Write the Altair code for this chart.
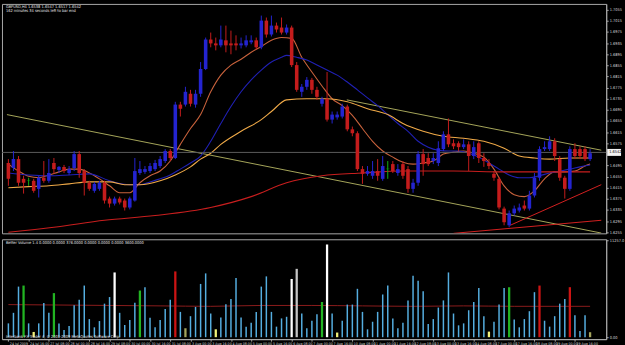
import altair as alt
import pandas as pd

# ---------------- data ----------------
opens = [
    1.6504, 1.6486, 1.6518, 1.6447, 1.6440, 1.6440, 1.6411, 1.6451, 1.6440, 1.6504,
    1.6479, 1.6490, 1.6468, 1.6486, 1.6536, 1.6475, 1.6433, 1.6404, 1.6411, 1.6433,
    1.6376, 1.6358, 1.6376, 1.6369, 1.6344, 1.6369, 1.6468, 1.6472, 1.6475, 1.6482,
    1.6493, 1.6511, 1.6547, 1.6522, 1.6714, 1.6714, 1.6753, 1.6714, 1.6753, 1.6842,
    1.6948, 1.6934, 1.6927, 1.6945, 1.6934, 1.6934, 1.6927, 1.6927, 1.6938, 1.6945,
    1.6920, 1.7016, 1.6966, 1.6998, 1.6991, 1.6973, 1.6991, 1.6856, 1.6760, 1.6778,
    1.6803, 1.6767, 1.6717, 1.6735, 1.6660, 1.6668, 1.6671, 1.6707, 1.6625, 1.6611,
    1.6482, 1.6465, 1.6458, 1.6475, 1.6447, 1.6482, 1.6500, 1.6468, 1.6500, 1.6482,
    1.6411, 1.6433, 1.6536, 1.6522, 1.6511, 1.6504, 1.6554, 1.6607, 1.6575, 1.6575,
    1.6561, 1.6571, 1.6529, 1.6575, 1.6522, 1.6504, 1.6465, 1.6447, 1.6340, 1.6280,
    1.6323, 1.6333, 1.6351, 1.6340, 1.6387, 1.6451, 1.6554, 1.6554, 1.6582, 1.6518,
    1.6451, 1.6411, 1.6554, 1.6554, 1.6554, 1.6518]
highs = [
    1.6518, 1.6547, 1.6529, 1.6458, 1.6451, 1.6447, 1.6458, 1.6511, 1.6518, 1.6522,
    1.6493, 1.6497, 1.6493, 1.6547, 1.6547, 1.6482, 1.6440, 1.6436, 1.6440, 1.6440,
    1.6383, 1.6383, 1.6383, 1.6376, 1.6383, 1.6522, 1.6511, 1.6493, 1.6504, 1.6515,
    1.6529, 1.6554, 1.6554, 1.6724, 1.6724, 1.6778, 1.6767, 1.6767, 1.6867, 1.6955,
    1.6973, 1.6955, 1.6998, 1.6998, 1.6980, 1.6963, 1.6955, 1.6963, 1.6963, 1.6955,
    1.7034, 1.7027, 1.7034, 1.7009, 1.7027, 1.7002, 1.6998, 1.6867, 1.6788, 1.6813,
    1.6810, 1.6778, 1.6742, 1.6831, 1.6689, 1.6689, 1.6717, 1.6714, 1.6635, 1.6618,
    1.6493, 1.6493, 1.6511, 1.6518, 1.6529, 1.6511, 1.6511, 1.6500, 1.6511, 1.6493,
    1.6447, 1.6547, 1.6554, 1.6539, 1.6539, 1.6582, 1.6618, 1.6664, 1.6589, 1.6582,
    1.6589, 1.6582, 1.6582, 1.6582, 1.6539, 1.6518, 1.6475, 1.6454, 1.6347, 1.6333,
    1.6351, 1.6358, 1.6369, 1.6404, 1.6468, 1.6564, 1.6582, 1.6600, 1.6593, 1.6529,
    1.6458, 1.6564, 1.6575, 1.6564, 1.6564, 1.6554]
lows = [
    1.6422, 1.6475, 1.6422, 1.6394, 1.6422, 1.6397, 1.6380, 1.6433, 1.6433, 1.6465,
    1.6468, 1.6468, 1.6461, 1.6475, 1.6451, 1.6387, 1.6404, 1.6397, 1.6404, 1.6358,
    1.6344, 1.6351, 1.6355, 1.6333, 1.6337, 1.6365, 1.6461, 1.6465, 1.6468, 1.6475,
    1.6486, 1.6504, 1.6511, 1.6518, 1.6671, 1.6707, 1.6707, 1.6703, 1.6742, 1.6838,
    1.6920, 1.6909, 1.6920, 1.6902, 1.6895, 1.6909, 1.6916, 1.6920, 1.6931, 1.6913,
    1.6913, 1.6955, 1.6959, 1.6973, 1.6966, 1.6966, 1.6849, 1.6760, 1.6742, 1.6767,
    1.6753, 1.6731, 1.6707, 1.6653, 1.6646, 1.6660, 1.6664, 1.6618, 1.6600, 1.6475,
    1.6429, 1.6458, 1.6447, 1.6440, 1.6440, 1.6447, 1.6468, 1.6458, 1.6447, 1.6397,
    1.6397, 1.6422, 1.6458, 1.6493, 1.6500, 1.6493, 1.6547, 1.6561, 1.6554, 1.6547,
    1.6554, 1.6475, 1.6518, 1.6504, 1.6490, 1.6482, 1.6440, 1.6337, 1.6280, 1.6273,
    1.6315, 1.6326, 1.6333, 1.6333, 1.6380, 1.6440, 1.6547, 1.6547, 1.6511, 1.6440,
    1.6376, 1.6404, 1.6518, 1.6518, 1.6511, 1.6511]
closes = [
    1.6447, 1.6518, 1.6433, 1.6433, 1.6440, 1.6404, 1.6451, 1.6440, 1.6468, 1.6482,
    1.6490, 1.6475, 1.6482, 1.6536, 1.6468, 1.6433, 1.6411, 1.6429, 1.6433, 1.6369,
    1.6358, 1.6376, 1.6362, 1.6344, 1.6376, 1.6475, 1.6482, 1.6482, 1.6493, 1.6504,
    1.6518, 1.6547, 1.6522, 1.6714, 1.6699, 1.6760, 1.6717, 1.6753, 1.6842, 1.6948,
    1.6934, 1.6927, 1.6948, 1.6927, 1.6927, 1.6927, 1.6934, 1.6945, 1.6945, 1.6920,
    1.7016, 1.6966, 1.6998, 1.6984, 1.6973, 1.6991, 1.6856, 1.6767, 1.6778, 1.6803,
    1.6767, 1.6742, 1.6735, 1.6660, 1.6678, 1.6678, 1.6707, 1.6625, 1.6611, 1.6482,
    1.6465, 1.6475, 1.6475, 1.6458, 1.6493, 1.6482, 1.6475, 1.6482, 1.6458, 1.6411,
    1.6433, 1.6536, 1.6500, 1.6500, 1.6522, 1.6557, 1.6607, 1.6571, 1.6564, 1.6561,
    1.6571, 1.6529, 1.6561, 1.6522, 1.6511, 1.6493, 1.6451, 1.6344, 1.6291, 1.6323,
    1.6340, 1.6344, 1.6340, 1.6387, 1.6451, 1.6554, 1.6561, 1.6582, 1.6529, 1.6451,
    1.6411, 1.6554, 1.6529, 1.6529, 1.6518, 1.6539]

volumes = [
    1610, 2840, 5900, 6020, 1610, 610, 1610, 3990, 2840, 5140,
    1610, 840, 1300, 3720, 4370, 6020, 2110, 1150, 1880, 3910,
    4680, 7550, 2840, 1420, 1990, 4030, 5440, 5830, 2260, 1150,
    1990, 3300, 4370, 7670, 2950, 1040, 2450, 3530, 6210, 7440,
    2760, 920, 2300, 3830, 4450, 6900, 2300, 1230, 1690, 2950,
    5900, 7090, 2950, 1230, 2190, 2380, 6790, 7970, 2760, 1040,
    1920, 2680, 4100, 10810, 2760, 540, 1920, 3800, 3800, 5640,
    2950, 920, 1800, 2950, 4980, 6020, 2190, 1040, 1690, 4290,
    7170, 6590, 5370, 1530, 2110, 3450, 4290, 7550, 2760, 1380,
    1610, 3140, 4100, 5750, 2450, 650, 1800, 3800, 5750, 5830,
    2070, 1150, 2110, 3030, 5250, 6020, 1920, 1230, 2450, 3910,
    4450, 5830, 2570, 720, 2570, 580]
vol_kind = [
    "n", "n", "n", "g", "n", "y", "n", "n", "n", "g",
    "n", "n", "n", "n", "n", "n", "n", "n", "n", "n",
    "n", "w", "n", "n", "n", "n", "g", "n", "n", "n",
    "n", "n", "n", "r", "n", "o", "n", "n", "n", "n",
    "n", "y", "n", "n", "n", "n", "n", "n", "n", "n",
    "n", "n", "n", "n", "n", "n", "w", "s", "n", "n",
    "n", "n", "g", "w", "n", "y", "n", "n", "n", "n",
    "n", "n", "n", "n", "n", "n", "n", "n", "n", "n",
    "n", "n", "n", "n", "n", "n", "n", "n", "n", "n",
    "n", "n", "n", "n", "n", "y", "n", "n", "n", "g",
    "n", "n", "n", "n", "n", "r", "n", "n", "n", "n",
    "n", "r", "n", "n", "n", "o"]

vol_ma_bars = [0, 10, 20, 30, 40, 50, 60, 70, 80, 90, 100, 110, 115]
vol_ma_vals = [3800, 3750, 3700, 3650, 3600, 3700, 3700, 3650, 3600, 3650, 3600, 3600, 3600]

fast_bars = [0, 2, 4, 6, 8, 10, 12, 14, 16, 18, 20, 22, 24, 26, 28, 30, 32, 34, 36, 38,
             40, 42, 44, 46, 48, 50, 52, 54, 56, 58, 60, 62, 64, 66, 68, 70, 72, 74, 76, 78,
             80, 82, 84, 86, 88, 90, 92, 94, 96, 98, 100, 102, 104, 106, 108, 110, 112, 114, 115]
fast_vals = [1.6500, 1.6475, 1.6456, 1.6451, 1.6461, 1.6472, 1.6482, 1.6482, 1.6468, 1.6447,
             1.6422, 1.6397, 1.6397, 1.6433, 1.6458, 1.6475, 1.6511, 1.6571, 1.6628, 1.6678,
             1.6760, 1.6820, 1.6856, 1.6877, 1.6902, 1.6923, 1.6945, 1.6955, 1.6952, 1.6884,
             1.6831, 1.6781, 1.6735, 1.6710, 1.6675, 1.6628, 1.6582, 1.6547, 1.6525, 1.6507,
             1.6500, 1.6504, 1.6511, 1.6536, 1.6543, 1.6547, 1.6539, 1.6525, 1.6482, 1.6422,
             1.6390, 1.6383, 1.6404, 1.6447, 1.6472, 1.6472, 1.6475, 1.6493, 1.6500]

mid_bars = [0, 4, 8, 12, 16, 20, 24, 26, 28, 30, 32, 34, 36, 38, 40, 42, 44, 46, 48, 50,
            52, 54, 55, 57, 59, 61, 63, 65, 67, 69, 71, 73, 75, 77, 79, 81, 83, 85, 87, 89,
            91, 93, 95, 97, 99, 101, 103, 105, 107, 109, 111, 113, 115]
mid_vals = [1.6468, 1.6461, 1.6458, 1.6461, 1.6465, 1.6440, 1.6426, 1.6426, 1.6436, 1.6447,
            1.6461, 1.6482, 1.6504, 1.6529, 1.6582, 1.6646, 1.6707, 1.6760, 1.6803, 1.6838,
            1.6867, 1.6884, 1.6891, 1.6884, 1.6874, 1.6856, 1.6838, 1.6820, 1.6795, 1.6767,
            1.6738, 1.6710, 1.6678, 1.6646, 1.6618, 1.6582, 1.6561, 1.6550, 1.6547, 1.6547,
            1.6539, 1.6525, 1.6504, 1.6482, 1.6461, 1.6451, 1.6451, 1.6458, 1.6468, 1.6475,
            1.6482, 1.6490, 1.6497]

slow_bars = [0, 4, 8, 12, 16, 20, 23, 26, 30, 33, 36, 38, 40, 42, 46, 50, 52, 55, 59, 63,
             67, 71, 75, 78, 82, 86, 90, 94, 98, 101, 104, 107, 111, 115]
slow_vals = [1.6415, 1.6419, 1.6422, 1.6429, 1.6436, 1.6436, 1.6426, 1.6426, 1.6440, 1.6461,
             1.6490, 1.6518, 1.6539, 1.6571, 1.6618, 1.6660, 1.6689, 1.6731, 1.6735, 1.6735,
             1.6724, 1.6699, 1.6678, 1.6646, 1.6618, 1.6600, 1.6593, 1.6582, 1.6557, 1.6529,
             1.6522, 1.6518, 1.6522, 1.6522]

long_bars = [0, 9, 19, 29, 40, 48, 55, 62, 70, 78, 88, 98, 107, 115]
long_vals = [1.6255, 1.6273, 1.6298, 1.6315, 1.6344, 1.6383, 1.6433, 1.6458, 1.6468, 1.6475,
             1.6475, 1.6472, 1.6472, 1.6472]

# drawn trend lines: (start bar, start price, end bar, end price)
trend_names = ["channel_low", "channel_high", "support_1", "support_2"]
trend_x0 = [-0.29, 66.9, 99.2, 88.0]
trend_y0 = [1.6678, 1.6731, 1.6280, 1.6251]
trend_x1 = [117.21, 117.21, 117.21, 117.21]
trend_y1 = [1.6252, 1.6550, 1.6426, 1.6298]

bid_price = 1.6542
price_ticks = [1.7055, 1.7015, 1.6975, 1.6935, 1.6895, 1.6855, 1.6815, 1.6775, 1.6735,
               1.6695, 1.6655, 1.6615, 1.6575, 1.6495, 1.6455, 1.6415, 1.6375,
               1.6335, 1.6295, 1.6255]
time_labels = ["24 Jul 2009", "24 Jul 16:00", "27 Jul 08:00", "28 Jul 00:00", "28 Jul 16:00",
               "29 Jul 08:00", "30 Jul 00:00", "30 Jul 16:00", "31 Jul 08:00", "3 Aug 00:00",
               "3 Aug 16:00", "4 Aug 08:00", "5 Aug 00:00", "5 Aug 16:00", "6 Aug 08:00",
               "7 Aug 00:00", "7 Aug 16:00", "10 Aug 08:00", "11 Aug 00:00", "11 Aug 16:00",
               "12 Aug 08:00", "13 Aug 00:00", "13 Aug 16:00", "14 Aug 08:00", "17 Aug 00:00",
               "17 Aug 16:00", "18 Aug 08:00", "19 Aug 00:00", "19 Aug 16:00"]
vol_top_label = 11257.0

header_1 = "GBPUSD,H4  1.6538 1.6547 1.6517 1.6542"
header_2 = "162 minutes 34 seconds left to bar end"
vol_header = "Better Volume 1.4  0.0000 0.0000 376.0000 0.0000 0.0000 0.0000 3600.0000"
footer = "Interbank FX Trader 4, \u00a9 2001-2009 MetaQuotes Software Corp."

# ---------------- frames ----------------
n = len(opens)
kinds = ["bull" if c > o else ("bear" if c < o else "doji") for o, c in zip(opens, closes)]
cdf = pd.DataFrame({"bar": list(range(n)), "open": opens, "high": highs, "low": lows,
                    "close": closes, "kind": kinds})
cdf["top"] = [c if c != o else o + 0.00012 for o, c in zip(opens, closes)]

ma_rows = []
for name, bs, vs_ in [("fast", fast_bars, fast_vals), ("mid", mid_bars, mid_vals),
                      ("slow", slow_bars, slow_vals), ("long", long_bars, long_vals)]:
    for b, v in zip(bs, vs_):
        ma_rows.append({"series": name, "bar": b, "value": v})
madf = pd.DataFrame(ma_rows)

tr_rows = []
for nm, a, b, c, d in zip(trend_names, trend_x0, trend_y0, trend_x1, trend_y1):
    tr_rows.append({"line": nm, "bar": a, "value": b})
    tr_rows.append({"line": nm, "bar": c, "value": d})
trdf = pd.DataFrame(tr_rows)

vdf = pd.DataFrame({"bar": list(range(n)), "vol": volumes, "kind": vol_kind})
vmadf = pd.DataFrame({"bar": vol_ma_bars, "vol": vol_ma_vals})
one = pd.DataFrame({"a": [0]})

# ---------------- scales / axes ----------------
FONT = "DejaVu Sans Condensed"
AX = "#a8a8a8"
LBL = "#d8d8d8"
xs = alt.Scale(domain=[-0.29, 117.21], nice=False, zero=False)
ys = alt.Scale(domain=[1.6251, 1.7076], nice=False, zero=False)
vs = alt.Scale(domain=[-231, 11418], nice=False, zero=False)

y_axis = alt.Axis(orient="right", values=price_ticks, format=".4f", labelFontSize=4,
                  labelFont=FONT, labelColor=LBL, tickSize=2, tickColor=AX, domainColor=AX,
                  labelPadding=1, grid=False, title=None, minExtent=13, maxExtent=13,
                  labelOverlap=False, labelBound=False, labelFlush=False)
v_axis = alt.Axis(orient="right", values=[0, vol_top_label],
                  labelExpr="datum.value == 0 ? '0.00' : format(datum.value, '.1f')",
                  labelFontSize=4, labelFont=FONT, labelColor=LBL, tickSize=2,
                  tickColor=AX, domainColor=AX, labelPadding=1, grid=False, title=None,
                  minExtent=13, maxExtent=13, labelOverlap=False, labelFlush=False)
label_js = "[" + ",".join("'" + t + "'" for t in time_labels) + "]"
x_axis = alt.Axis(values=list(range(0, 4 * len(time_labels), 4)),
                  labelExpr=label_js + "[round(datum.value / 4)]",
                  labelAlign="left", labelBaseline="top", labelOffset=1, labelFontSize=3.6,
                  labelFont=FONT, labelColor=LBL, tickSize=2, tickColor=AX, domainColor=AX,
                  labelPadding=0, grid=False, title=None, minExtent=8, maxExtent=8,
                  labelOverlap=False, labelBound=False, labelFlush=False)

XP = alt.X("bar:Q", scale=xs, axis=None)
XV = alt.X("bar:Q", scale=xs, axis=x_axis)

candle_colors = alt.Scale(domain=["bull", "bear", "doji"], range=["#2424d0", "#c41c1c", "#10b010"])

wicks = alt.Chart(cdf).mark_rule(strokeWidth=1).encode(
    x=XP, y=alt.Y("low:Q", scale=ys, axis=y_axis), y2="high:Q",
    color=alt.Color("kind:N", scale=candle_colors, legend=None))
bodies = alt.Chart(cdf).mark_bar(size=3.6).encode(
    x=XP, y=alt.Y("open:Q", scale=ys, axis=y_axis), y2="top:Q",
    color=alt.Color("kind:N", scale=candle_colors, legend=None))

ma_colors = alt.Scale(domain=["fast", "mid", "slow", "long"],
                      range=["#c8623c", "#2020b4", "#f0aa48", "#c81e1e"])
mas = alt.Chart(madf).mark_line(strokeWidth=1.1, interpolate="monotone", clip=True).encode(
    x=XP, y=alt.Y("value:Q", scale=ys, axis=y_axis),
    color=alt.Color("series:N", scale=ma_colors, legend=None), order="bar:Q")

tr_colors = alt.Scale(domain=trend_names, range=["#a6a65a", "#a6a65a", "#d42020", "#d42020"])
trends = alt.Chart(trdf).mark_line(strokeWidth=1, clip=True).encode(
    x=XP, y=alt.Y("value:Q", scale=ys, axis=y_axis),
    color=alt.Color("line:N", scale=tr_colors, legend=None), detail="line:N")

bid_line = alt.Chart(one).mark_rule(color="#5c5c5c", strokeWidth=1).encode(
    y=alt.YDatum(bid_price, scale=ys, axis=y_axis))
bid_box = alt.Chart(one).mark_rect(color="#f2f2f2").encode(
    x=alt.value(612), x2=alt.value(626),
    y=alt.YDatum(bid_price + 0.00125, scale=ys, axis=y_axis),
    y2=alt.Y2Datum(bid_price - 0.00125))
bid_text = alt.Chart(one).mark_text(align="left", baseline="middle", fontSize=4,
                                    font=FONT, color="black").encode(
    x=alt.value(614), y=alt.YDatum(bid_price, scale=ys, axis=y_axis),
    text=alt.value(f"{bid_price:.4f}"))

head1 = alt.Chart(one).mark_text(align="left", baseline="top", fontSize=4, font=FONT,
                                 color="#e8e8e8").encode(
    x=alt.value(4), y=alt.value(1.5), text=alt.value(header_1))
head2 = alt.Chart(one).mark_text(align="left", baseline="top", fontSize=4, font=FONT,
                                 color="#e8e8e8").encode(
    x=alt.value(4), y=alt.value(5.5), text=alt.value(header_2))

price = alt.layer(trends, mas, bid_line, wicks, bodies, bid_box, bid_text, head1, head2).resolve_scale(
    color="independent").properties(width=611, height=232)

vol_colors = alt.Scale(domain=["n", "g", "y", "w", "s", "r", "o"],
                       range=["#55aee0", "#22b422", "#f2f27a", "#ffffff", "#c4c4c4",
                              "#cc1414", "#a4a45c"])
vbars = alt.Chart(vdf).mark_bar().encode(
    x=XV, y=alt.Y("vol:Q", scale=vs, axis=v_axis), y2=alt.Y2Datum(0),
    color=alt.Color("kind:N", scale=vol_colors, legend=None),
    size=alt.condition("datum.kind == 'n'", alt.value(1.5), alt.value(2.3)))
vma = alt.Chart(vmadf).mark_line(color="#8c1c1c", strokeWidth=1, interpolate="monotone").encode(
    x=XV, y=alt.Y("vol:Q", scale=vs, axis=v_axis))
vhead = alt.Chart(one).mark_text(align="left", baseline="top", fontSize=4, font=FONT,
                                 color="#e8e8e8").encode(
    x=alt.value(4), y=alt.value(1.5), text=alt.value(vol_header))
vfoot = alt.Chart(one).mark_text(align="left", baseline="middle", fontSize=4, font=FONT,
                                 color="#e8e8e8").encode(
    x=alt.value(4), y=alt.value(98.5), text=alt.value(footer))

volume = alt.layer(vma, vbars, vhead, vfoot).resolve_scale(
    color="independent").properties(width=611, height=101)

chart = alt.vconcat(price, volume, spacing=2).properties(
    padding={"left": 1, "top": 1, "right": 0, "bottom": 0}
).configure(background="black").configure_view(stroke="#a8a8a8", strokeWidth=1)

chart.save("out.html", embed_options={"renderer": "svg", "actions": False})
